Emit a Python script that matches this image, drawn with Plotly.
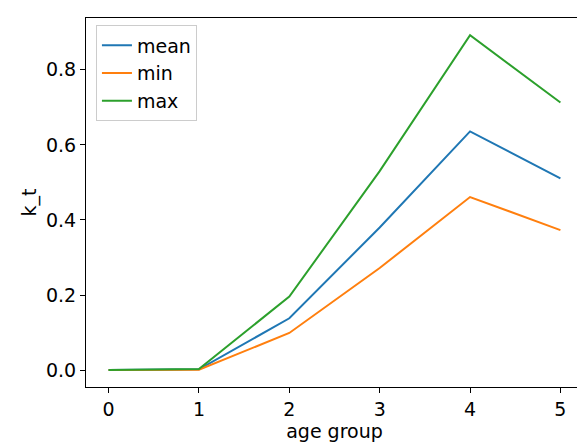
import plotly.graph_objects as go

age_group = [0, 1, 2, 3, 4, 5]
mean_vals = [0.0, 0.002, 0.138, 0.38, 0.636, 0.511]
min_vals = [0.0, 0.001, 0.099, 0.272, 0.461, 0.373]
max_vals = [0.0, 0.003, 0.196, 0.53, 0.892, 0.713]

fig = go.Figure()
for name, vals, col in [("mean", mean_vals, "#1f77b4"), ("min", min_vals, "#ff7f0e"), ("max", max_vals, "#2ca02c")]:
    fig.add_trace(go.Scatter(x=age_group, y=vals, mode="lines", name=name, line=dict(color=col, width=2)))

axis = dict(showline=True, linecolor="black", linewidth=1, mirror=True, ticks="outside",
            ticklen=5, tickcolor="black", showgrid=False, zeroline=False,
            tickfont=dict(size=19, color="black"))
fig.update_layout(
    width=585, height=444, plot_bgcolor="white", paper_bgcolor="white",
    margin=dict(l=78, r=10, t=10, b=65),
    font=dict(family="DejaVu Sans", color="black"),
    xaxis=dict(axis, range=[-0.25, 5.25], tickvals=age_group,
               title=dict(text="age group", font=dict(size=19), standoff=4)),
    yaxis=dict(axis, range=[-0.045, 0.938], tickvals=[0, 0.2, 0.4, 0.6, 0.8], tickformat=".1f",
               title=dict(text="k_t", font=dict(size=19), standoff=4)),
    legend=dict(x=0.02, y=0.98, xanchor="left", yanchor="top", bordercolor="#cccccc", borderwidth=1,
                font=dict(size=19), bgcolor="rgba(255,255,255,0.8)"),
)
fig.write_html("out.html")
